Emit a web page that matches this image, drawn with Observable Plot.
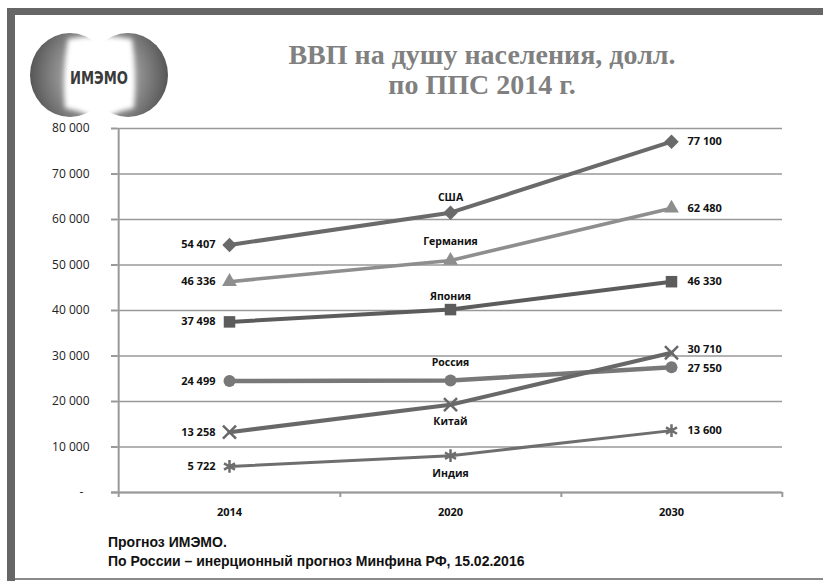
<!DOCTYPE html>
<html><head><meta charset="utf-8">
<script src="https://cdn.jsdelivr.net/npm/d3@7"></script>
<script src="https://cdn.jsdelivr.net/npm/@observablehq/plot@0.6"></script>
<style>
body{margin:0;background:#fff;}
#wrap{position:relative;width:823px;height:581px;overflow:hidden;background:#fff;}
.bar{position:absolute;background:#666;}
#title{position:absolute;left:182px;top:40px;width:600px;text-align:center;font-family:"Liberation Serif","Times New Roman",serif;font-weight:bold;font-size:28px;line-height:30px;color:#808080;}
#foot{position:absolute;left:108px;top:533px;font-family:"Liberation Sans",Arial,sans-serif;font-weight:bold;font-size:14px;line-height:19px;color:#111;white-space:nowrap;}
#chart{position:absolute;left:0;top:110px;}
</style></head>
<body>
<div id="wrap">
  <div class="bar" style="left:7px;top:8px;width:816px;height:7px;"></div>
  <div class="bar" style="left:7px;top:8px;width:8px;height:573px;"></div>
  <div style="position:absolute;left:15px;top:578px;width:808px;height:2px;background:#8a8a8a;"></div>
  <svg width="150" height="95" style="position:absolute;left:28px;top:30px">
    <defs>
      <radialGradient id="gl" cx="0.8" cy="0.5" r="0.85">
        <stop offset="0" stop-color="#e6e6e6"/><stop offset="0.45" stop-color="#9a9a9a"/><stop offset="1" stop-color="#4e4e4e"/>
      </radialGradient>
      <radialGradient id="gr" cx="0.2" cy="0.5" r="0.85">
        <stop offset="0" stop-color="#e6e6e6"/><stop offset="0.45" stop-color="#9a9a9a"/><stop offset="1" stop-color="#4e4e4e"/>
      </radialGradient>
      <filter id="bl"><feGaussianBlur stdDeviation="2.5"/></filter>
    </defs>
    <ellipse cx="42" cy="45" rx="40" ry="42" fill="url(#gl)"/>
    <ellipse cx="100" cy="45" rx="40" ry="42" fill="url(#gr)"/>
    <path d="M40,9 Q71,3 104,9 Q109,44 106,78 Q95,80 86,84 Q72,92 58,84 Q48,80 37,78 Q34,44 40,9 Z" fill="#fff" filter="url(#bl)"/>
    <text x="71" y="54" text-anchor="middle" textLength="58" lengthAdjust="spacingAndGlyphs" font-family="'Liberation Sans Narrow','DejaVu Sans Condensed',Arial,sans-serif" font-weight="bold" font-size="17" fill="#3a3a3a">ИМЭМО</text>
  </svg>
  <div id="title">ВВП на душу населения, долл.<br>по ППС 2014 г.</div>
  <div id="chart"></div>
  <div id="foot">Прогноз ИМЭМО.<br>По России – инерционный прогноз Минфина РФ, 15.02.2016</div>
</div>
<script>
// ---- data ----
const years = ["2014", "2020", "2030"];
const countries = ["США", "Германия", "Япония", "Россия", "Китай", "Индия"];
const usa     = [54407, 61500, 77100];
const germany = [46336, 51000, 62480];
const japan   = [37498, 40200, 46330];
const russia  = [24499, 24600, 27550];
const china   = [13258, 19300, 30710];
const india   = [5722, 8100, 13600];
const yTicks  = [0, 10000, 20000, 30000, 40000, 50000, 60000, 70000, 80000];

const seriesValues = [usa, germany, japan, russia, china, india];
const rows = [];
countries.forEach((c, i) => years.forEach((y, j) => rows.push({country: c, year: y, value: seriesValues[i][j]})));

// ---- styles ----
const colors  = ["#6a6a6a", "#8e8e8e", "#5c5c5c", "#787878", "#686868", "#6e6e6e"];
const symbols = ["diamond2", "triangle", "square", "circle", "times", "asterisk"];
const widths  = [4, 3.5, 4, 4.5, 4, 3];
const radii   = [6.5, 5.5, 6.5, 6, 6, 6];
const nameDy  = [-15, -19, -13, -18, 17, 18];
const rightDy = [0, 0, 0, 1, -3, 0];

const W = 823, H = 420, mL = 117, mR = 41, mT = 18, mB = 38;
const step = (W - mL - mR) / years.length;
const fmt = v => d3.format(",")(v).replace(/,/g, " ");
const axisGray = "#999";

const marks = [
  Plot.gridY(yTicks, {stroke: axisGray, strokeWidth: 1.5, strokeOpacity: 1}),
  Plot.axisY(yTicks, {tickSize: 6, tickPadding: 22, stroke: axisGray, strokeWidth: 2, fill: "#222",
    fontSize: 12, tickFormat: d => d === 0 ? "-\u00a0\u00a0" : fmt(d), label: null}),
  Plot.axisX({tickSize: 0, tickPadding: 16, fontWeight: "bold", fontSize: 11, fill: "#111", label: null}),
  Plot.ruleY([0], {stroke: axisGray, strokeWidth: 2, insetLeft: -6}),
  Plot.ruleX([years[0]], {dx: -step / 2, stroke: axisGray, strokeWidth: 2, insetBottom: -5}),
  Plot.ruleX(years, {y1: 0, y2: 0, dx: step / 2, insetBottom: -5, stroke: axisGray, strokeWidth: 2})
];

countries.forEach((c, i) => {
  const data = rows.filter(r => r.country === c);
  marks.push(Plot.line(data, {x: "year", y: "value", stroke: colors[i], strokeWidth: widths[i]}));
  const stroked = symbols[i] === "times" || symbols[i] === "asterisk";
  marks.push(Plot.dot(data, {x: "year", y: "value", symbol: () => symbols[i], r: radii[i],
    fill: stroked ? "none" : colors[i], stroke: stroked ? colors[i] : "none", strokeWidth: stroked ? 2.5 : 0}));
  marks.push(Plot.text(data.filter(d => d.year === years[0]), {x: "year", y: "value", text: d => fmt(d.value),
    textAnchor: "end", dx: -14, fontWeight: "bold", fontSize: 11, fill: "#111"}));
  marks.push(Plot.text(data.filter(d => d.year === years[2]), {x: "year", y: "value", text: d => fmt(d.value),
    textAnchor: "start", dx: 16, dy: rightDy[i], fontWeight: "bold", fontSize: 11, fill: "#111"}));
  marks.push(Plot.text(data.filter(d => d.year === years[1]), {x: "year", y: "value", text: "country",
    dy: nameDy[i], fontWeight: "bold", fontSize: 10.5, fill: "#111"}));
});

const chart = Plot.plot({
  width: W, height: H,
  marginLeft: mL, marginRight: mR, marginTop: mT, marginBottom: mB,
  style: {fontFamily: "'Open Sans', sans-serif", background: "transparent", color: "#111"},
  x: {type: "point", domain: years, padding: 0.5, axis: null},
  y: {domain: [0, 80000], axis: null},
  symbol: {type: "identity"},
  marks
});
document.getElementById("chart").appendChild(chart);
</script>
</body></html>
